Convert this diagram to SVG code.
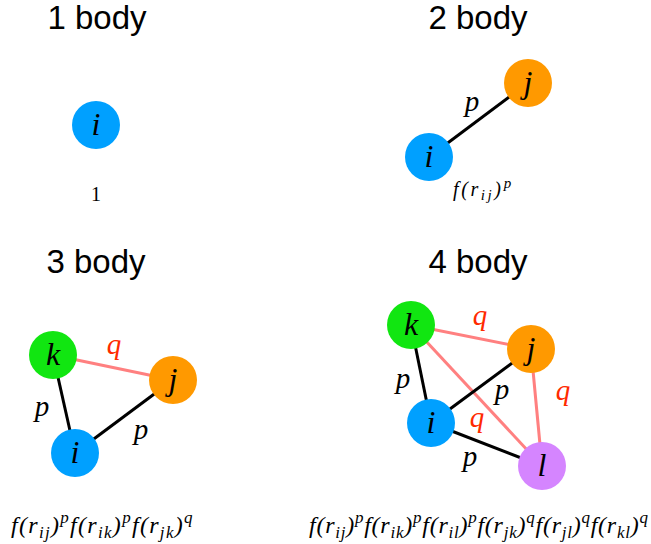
<svg xmlns="http://www.w3.org/2000/svg" width="651" height="544" viewBox="0 0 651 544">
<style>
.title{font-family:"Liberation Sans",Arial,sans-serif;font-size:33px;fill:#000;text-anchor:middle}
.lbl{font-family:"Liberation Serif","Times New Roman",serif;font-style:italic;font-size:32px;fill:#000;text-anchor:middle}
.p{font-family:"Liberation Serif","Times New Roman",serif;font-style:italic;font-size:29px;fill:#000;text-anchor:middle}
.q{font-family:"Liberation Serif","Times New Roman",serif;font-style:italic;font-size:29px;fill:#ff2a00;text-anchor:middle}
.f{font-family:"Liberation Serif","Times New Roman",serif;font-style:italic;font-size:24px;fill:#000;letter-spacing:1.3px}
.f4{letter-spacing:0.75px}
.f2{font-family:"Liberation Serif","Times New Roman",serif;font-style:italic;font-size:20px;fill:#000;letter-spacing:2.6px}
.s{font-size:17px}
.s2{font-size:15px}
.blk{stroke:#000;stroke-width:3;fill:none}
.red{stroke:#ff8080;stroke-width:3;fill:none}
.ci{fill:#00a0ff}.cj{fill:#ff9900}.ck{fill:#11e611}.cl{fill:#d585ff}
</style>
<rect width="651" height="544" fill="#fff"/>
<g id="titles">
<text class="title" x="97" y="29">1 body</text>
<text class="title" x="478" y="29">2 body</text>
<text class="title" x="96" y="273">3 body</text>
<text class="title" x="478" y="273">4 body</text>
</g>
<g id="connectors">
<line class="blk" x1="429" y1="157" x2="528" y2="83"/>
<line class="red" x1="53" y1="355" x2="173" y2="380"/>
<line class="blk" x1="53" y1="355" x2="75" y2="453"/>
<line class="blk" x1="75" y1="453" x2="173" y2="380"/>
<line class="red" x1="411" y1="325" x2="531" y2="349"/>
<line class="red" x1="411" y1="325" x2="542" y2="466"/>
<line class="red" x1="531" y1="349" x2="542" y2="466"/>
<line class="blk" x1="411" y1="325" x2="431" y2="423"/>
<line class="blk" x1="431" y1="423" x2="531" y2="349"/>
<line class="blk" x1="431" y1="423" x2="542" y2="466"/>
</g>
<g id="edge-labels">
<text class="p" x="472" y="111">p</text>
<text class="q" x="114" y="354">q</text>
<text class="p" x="42" y="416">p</text>
<text class="p" x="141" y="439">p</text>
<text class="q" x="480" y="325">q</text>
<text class="p" x="403" y="388">p</text>
<text class="p" x="502" y="399">p</text>
<text class="q" x="477" y="427">q</text>
<text class="q" x="563" y="400">q</text>
<text class="p" x="470" y="466">p</text>
</g>
<g id="n1-i"><circle class="ci" cx="96" cy="125" r="24"/><text class="lbl" x="96" y="135">i</text></g>
<g id="n2-i"><circle class="ci" cx="429" cy="157" r="24"/><text class="lbl" x="429" y="167">i</text></g>
<g id="n2-j"><circle class="cj" cx="528" cy="83" r="24"/><text class="lbl" x="528" y="93">j</text></g>
<g id="n3-k"><circle class="ck" cx="53" cy="355" r="24"/><text class="lbl" x="53" y="365">k</text></g>
<g id="n3-j"><circle class="cj" cx="173" cy="380" r="24"/><text class="lbl" x="173" y="390">j</text></g>
<g id="n3-i"><circle class="ci" cx="75" cy="453" r="24"/><text class="lbl" x="75" y="463">i</text></g>
<g id="n4-k"><circle class="ck" cx="411" cy="325" r="24"/><text class="lbl" x="411" y="335">k</text></g>
<g id="n4-j"><circle class="cj" cx="531" cy="349" r="24"/><text class="lbl" x="531" y="359">j</text></g>
<g id="n4-i"><circle class="ci" cx="431" cy="423" r="24"/><text class="lbl" x="431" y="433">i</text></g>
<g id="n4-l"><circle class="cl" cx="542" cy="466" r="24"/><text class="lbl" x="542" y="476">l</text></g>
<g id="formulas">
<text x="96" y="201" text-anchor="middle" style="font-family:'Liberation Serif','Times New Roman',serif;font-size:20px">1</text>
<text class="f2" x="453" y="196">f(r<tspan class="s2" dy="4">ij</tspan><tspan dy="-4">)</tspan><tspan class="s2" dy="-8">p</tspan></text>
<text class="f" x="11" y="533">f(r<tspan class="s" dy="5">ij</tspan><tspan dy="-5">)</tspan><tspan class="s" dy="-10">p</tspan><tspan dy="10">f(r</tspan><tspan class="s" dy="5">ik</tspan><tspan dy="-5">)</tspan><tspan class="s" dy="-10">p</tspan><tspan dy="10">f(r</tspan><tspan class="s" dy="5">jk</tspan><tspan dy="-5">)</tspan><tspan class="s" dy="-10">q</tspan></text>
<text class="f f4" x="309" y="533">f(r<tspan class="s" dy="5">ij</tspan><tspan dy="-5">)</tspan><tspan class="s" dy="-10">p</tspan><tspan dy="10">f(r</tspan><tspan class="s" dy="5">ik</tspan><tspan dy="-5">)</tspan><tspan class="s" dy="-10">p</tspan><tspan dy="10">f(r</tspan><tspan class="s" dy="5">il</tspan><tspan dy="-5">)</tspan><tspan class="s" dy="-10">p</tspan><tspan dy="10">f(r</tspan><tspan class="s" dy="5">jk</tspan><tspan dy="-5">)</tspan><tspan class="s" dy="-10">q</tspan><tspan dy="10">f(r</tspan><tspan class="s" dy="5">jl</tspan><tspan dy="-5">)</tspan><tspan class="s" dy="-10">q</tspan><tspan dy="10">f(r</tspan><tspan class="s" dy="5">kl</tspan><tspan dy="-5">)</tspan><tspan class="s" dy="-10">q</tspan></text>
</g>
</svg>
